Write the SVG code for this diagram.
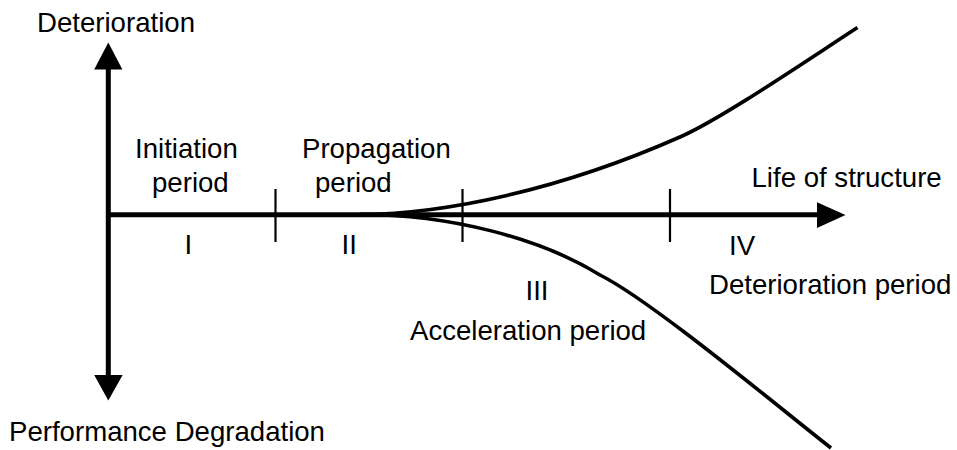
<svg xmlns="http://www.w3.org/2000/svg" width="957" height="450" viewBox="0 0 957 450">
<style>
text{font-family:"Liberation Sans",Arial,sans-serif;font-size:27.6px;fill:#000}
.axis{stroke:#000;stroke-width:5;fill:none}
.tick{stroke:#000;stroke-width:2.2;fill:none}
.curve{stroke:#000;stroke-width:3.6;fill:none;stroke-linecap:butt}
.head{fill:#000}
</style>
<rect width="957" height="450" fill="#fff"/>
<g id="axes">
<line class="axis" x1="108.3" y1="68" x2="108.3" y2="377"/>
<polygon class="head" points="108.3,42.5 94.2,69.5 122.4,69.5"/>
<polygon class="head" points="108.3,400.5 94.2,375 122.6,375"/>
<line class="axis" x1="106" y1="214.8" x2="819" y2="214.8"/>
<polygon class="head" points="845.5,215 817,202.2 817,228"/>
</g>
<g id="ticks">
<line class="tick" x1="275.5" y1="189" x2="275.5" y2="242"/>
<line class="tick" x1="462.5" y1="189" x2="462.5" y2="242"/>
<line class="tick" x1="670" y1="189" x2="670" y2="242"/>
</g>
<g id="connectors">
<path class="curve" d="M 360 214.5 C 445 214, 560 190, 680 137 C 720 119.4, 797 67, 857.5 27.5"/>
<path class="curve" d="M 360 214.5 C 450 214.5, 540 238, 600 275 C 650 300, 770 400, 831 448"/>
</g>
<g id="labels">
<text x="37" y="32">Deterioration</text>
<text x="9" y="441">Performance Degradation</text>
<text x="135" y="158">Initiation</text>
<text x="152" y="192">period</text>
<text x="302" y="158">Propagation</text>
<text x="315" y="192">period</text>
<text x="184.5" y="254">I</text>
<text x="341.5" y="254">II</text>
<text x="525.5" y="300">III</text>
<text x="410" y="340">Acceleration period</text>
<text x="751.5" y="187">Life of structure</text>
<text x="729" y="255">IV</text>
<text x="709" y="294">Deterioration period</text>
</g>
</svg>
